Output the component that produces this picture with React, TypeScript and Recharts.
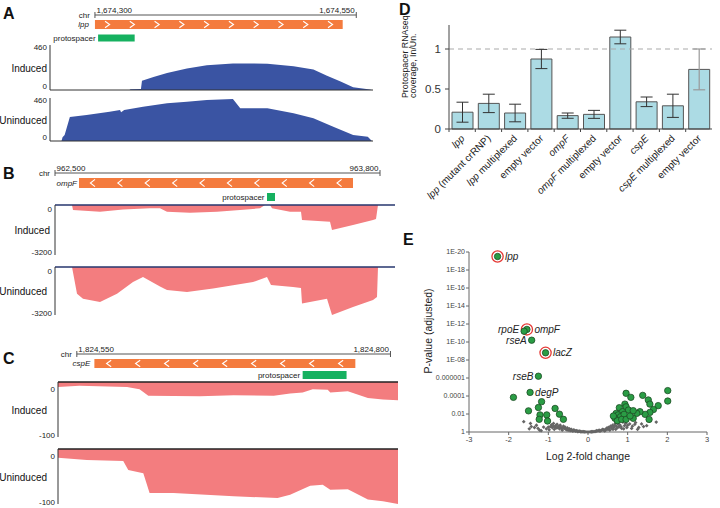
import React from 'react';
import {
  AreaChart,
  Area,
  ComposedChart,
  BarChart,
  Bar,
  ErrorBar,
  ScatterChart,
  Scatter,
  XAxis,
  YAxis,
  ReferenceLine,
  ReferenceArea,
} from 'recharts';

const FONT = '"Liberation Sans", Arial, Helvetica, sans-serif';

// ---------- A: lpp coverage ----------
const lppRuler = [1674300, 1674550];
const lppGene = [1674300, 1674537];
const lppProto = [1674303, 1674338];
const lppRange: [number, number] = [0, 460];
const lppInducedPos = [1674333, 1674334, 1674344, 1674345, 1674356, 1674369, 1674388, 1674407, 1674432, 1674465, 1674490, 1674509, 1674522, 1674535, 1674547, 1674556, 1674563, 1674565];
const lppInduced = [0, 8, 10, 95, 133, 174, 220, 254, 272, 269, 244, 209, 146, 87, 28, 15, 5, 0];
const lppUninducedPos = [1674268, 1674269, 1674271, 1674276, 1674292, 1674314, 1674324, 1674325, 1674328, 1674346, 1674369, 1674388, 1674407, 1674432, 1674439, 1674465, 1674490, 1674509, 1674528, 1674547, 1674561, 1674565];
const lppUninduced = [0, 40, 64, 257, 278, 313, 331, 308, 331, 367, 403, 420, 438, 449, 350, 350, 296, 243, 153, 64, 46, 0];

// ---------- B: ompF coverage ----------
const ompfRuler = [962500, 963800];
const ompfGene = [962596, 963692];
const ompfProto = [963348, 963380];
const ompfRange: [number, number] = [-3200, 0];
const ompfInducedPos = [962568, 962572, 962680, 962772, 962880, 962920, 962948, 963040, 963148, 963240, 963320, 963340, 963360, 963368, 963440, 963484, 963488, 963600, 963608, 963692, 963772, 963784, 963792];
const ompfInduced = [0, -320, -430, -280, -213, -213, -430, -490, -430, -320, -213, 0, 0, -213, -430, -430, -960, -1067, -1600, -1280, -960, -900, 0];
const ompfUninducedPos = [962568, 962588, 962612, 962680, 962748, 962812, 962852, 962920, 962948, 963028, 963132, 963212, 963292, 963348, 963364, 963452, 963484, 963488, 963588, 963608, 963692, 963772, 963788, 963792];
const ompfUninduced = [0, -1780, -2110, -2330, -1780, -1000, -667, -1300, -1530, -1670, -1440, -1220, -1000, -667, -1200, -1330, -1400, -2440, -2110, -3200, -2670, -2200, -2000, 0];

// ---------- C: cspE coverage ----------
const cspeRuler = [1824550, 1824800];
const cspeGene = [1824564, 1824772];
const cspeProto = [1824730, 1824765];
const cspeRange: [number, number] = [-100, 0];
const cspeInducedPos = [1824535, 1824552, 1824590, 1824600, 1824607, 1824648, 1824675, 1824707, 1824720, 1824730, 1824738, 1824750, 1824752, 1824766, 1824782, 1824794, 1824806];
const cspeInduced = [-9, -7, -9, -13, -25, -26, -24, -25, -21, -19, -13, -14, -19, -17, -29, -32, -33];
const cspeUninducedPos = [1824535, 1824558, 1824587, 1824591, 1824603, 1824608, 1824627, 1824675, 1824710, 1824720, 1824736, 1824746, 1824752, 1824766, 1824782, 1824794, 1824806];
const cspeUninduced = [-16, -20, -22, -38, -44, -80, -80, -86, -89, -83, -67, -65, -74, -73, -92, -95, -100];

// ---------- D: protospacer coverage ratio ----------
const dLabels = ['lpp', 'lpp (mutant crRNP)', 'lpp multiplexed', 'empty vector', 'ompF', 'ompF multiplexed', 'empty vector', 'cspE', 'cspE multiplexed', 'empty vector'];
const dRatio = [0.21, 0.32, 0.2, 0.875, 0.167, 0.183, 1.15, 0.34, 0.29, 0.745];
const dErr = [0.125, 0.115, 0.11, 0.12, 0.033, 0.05, 0.085, 0.06, 0.145, 0.255];
const geneNames = ['lpp', 'ompF', 'cspE'];

// ---------- E: volcano ----------
const hitName = ['lpp', 'rpoE', 'ompF', 'rseA', 'lacZ', 'rseB', 'degP'];
const hitFC = [-2.28, -1.61, -1.54, -1.42, -1.07, -1.25, -1.46, -1.88, -1.5, -1.17, -1.25, -1.21, -1.04, -1.23, -1.02, -0.83, -0.72, -0.62,
  2.01, 2.01, 0.96, 1.08, 1.38, 1.52, 1.56, 1.77, 1.65, 1.56, 1.44, 1.31, 1.23, 1.14, 1.54, 0.93, 0.96, 1.02, 0.79, 0.87, 0.71, 0.76, 0.82, 0.91, 0.68, 0.74, 0.85, 0.96, 1.06, 0.64, 1.14];
const hitP = [19.5, 11.2, 11.4, 10.2, 8.8, 6.2, 4.4, 3.85, 2.35, 3.37, 2.72, 1.9, 1.9, 1.41, 1.22, 2.62, 1.98, 1.41,
  4.6, 3.44, 4.3, 3.85, 4.07, 3.56, 3.1, 2.93, 2.5, 2.18, 1.96, 2.26, 2.07, 1.52, 1.4, 3.1, 2.8, 2.44, 2.7, 2.26, 2.07, 1.9, 1.7, 1.96, 1.52, 1.26, 1.4, 1.4, 1.78, 1.78, 2.37];
const targeted = ['lpp', 'ompF', 'lacZ'];
const leftLabels = ['rpoE', 'rseA', 'rseB'];
const bgFC = [-1.62, -1.45, -1.43, -1.3, -1.26, -1.22, -1.12, -1.05, -0.98, -0.92, -0.9, -0.87, -0.85, -0.82, -0.8, -0.78, -0.75, -0.72, -0.7, -0.68, -0.65, -0.62, -0.6, -0.58, -0.55, -0.52, -0.5, -0.47, -0.44, -0.4, -0.36, -0.32, -0.28, -0.24, -0.2, -0.15, -0.1, -0.05, 0,
  0.05, 0.1, 0.15, 0.2, 0.25, 0.3, 0.35, 0.4, 0.42, 0.46, 0.5, 0.52, 0.55, 0.58, 0.6, 0.62, 0.65, 0.68, 0.7, 0.72, 0.75, 0.78, 0.8, 0.85, 0.88, 0.92, 0.98, 1.05, 1.12, 1.2, 1.28, 1.4, 1.55, 1.72,
  -1.48, -1.35, -1.18, -1.0, -0.95, -0.88, -0.83, -0.77, -0.73, -0.67, -0.63, -0.57, -0.53, -0.48, -0.45, -0.42, -0.38, -0.34, -0.3, -0.26, -0.22, -0.18, -0.12, -0.08,
  0.08, 0.12, 0.18, 0.22, 0.28, 0.32, 0.37, 0.44, 0.48, 0.53, 0.57, 0.63, 0.67, 0.73, 0.77, 0.83, 0.9, 0.95, 1.0, 1.1, 1.18, 1.25, 1.35, 1.48];
const bgP = [1.15, 0.95, 0.6, 0.75, 0.4, 0.2, 0.55, 0.35, 0.25, 0.8, 0.5, 0.95, 0.3, 0.7, 0.45, 0.85, 0.6, 0.35, 0.75, 0.5, 0.2, 0.65, 0.4, 0.55, 0.3, 0.45, 0.2, 0.35, 0.25, 0.15, 0.22, 0.1, 0.15, 0.06, 0.08, 0.03, 0.02, 0.01, 0,
  0.01, 0.02, 0.04, 0.08, 0.12, 0.1, 0.2, 0.25, 0.12, 0.35, 0.3, 0.5, 0.2, 0.6, 0.4, 0.75, 0.5, 0.9, 0.3, 0.65, 1.0, 0.55, 0.8, 0.4, 1.1, 0.7, 0.5, 0.9, 0.65, 1.05, 0.5, 0.6, 1.2, 1.1,
  0.35, 0.5, 0.15, 0.55, 0.6, 0.65, 0.55, 0.5, 0.6, 0.4, 0.45, 0.35, 0.25, 0.3, 0.15, 0.3, 0.1, 0.18, 0.12, 0.05, 0.1, 0.03, 0.05, 0.02,
  0.03, 0.05, 0.06, 0.15, 0.2, 0.15, 0.3, 0.2, 0.45, 0.35, 0.65, 0.3, 0.7, 0.45, 0.85, 0.6, 0.35, 0.95, 0.75, 0.4, 0.85, 0.3, 0.9, 0.7];

const pTicks = [0, 2, 4, 6, 8, 10, 12, 14, 16, 18, 20];
const fcTicks = [-3, -2, -1, 0, 1, 2, 3];

const fmtP = (v: number) => {
  if (v === 0) return '1';
  if (v <= 6) return '0.' + '0'.repeat(v - 1) + '1';
  return '1E-' + (v < 10 ? '0' + v : String(v));
};

// ---------- helpers ----------
const PAD = 7;

type TrackProps = {
  pos: number[];
  vals: number[];
  domain: [number, number];
  range: [number, number];
  top: number;
  height: number;
  axisX: number;
  right: number;
  label: string;
  labelRight: number;
  color: string;
  topDy: number;
  bottomDy: number;
  lineColor?: string;
};

function Track(p: TrackProps) {
  const data = p.pos.map((x, i) => ({ x, v: p.vals[i] }));
  const negative = p.range[1] === 0;
  return (
    <div style={{ position: 'absolute', left: 0, top: p.top - PAD }}>
      <AreaChart width={p.right} height={p.height + 2 * PAD} data={data} margin={{ top: PAD, right: 0, bottom: PAD, left: 0 }}>
        <XAxis
          dataKey="x"
          type="number"
          domain={p.domain}
          allowDataOverflow
          hide={negative}
          height={1}
          tick={false}
          tickLine={false}
          axisLine={{ stroke: '#333' }}
        />
        <YAxis
          type="number"
          domain={p.range}
          ticks={p.range}
          interval={0}
          width={p.axisX}
          tickLine={false}
          tickSize={0}
          tickMargin={3}
          axisLine={{ stroke: '#333' }}
          tick={(tp: any) => {
            const v = tp.payload.value;
            const atTop = v === p.range[1];
            return (
              <text x={tp.x} y={tp.y} dy={atTop ? p.topDy : p.bottomDy} textAnchor="end" fontSize={8} fill="#222" fontFamily={FONT}>
                {v}
              </text>
            );
          }}
          label={{
            content: () => (
              <text x={p.labelRight} y={PAD + p.height / 2 + 4} textAnchor="end" fontSize={10} fill="#111" fontFamily={FONT}>
                {p.label}
              </text>
            ),
          }}
        />
        {negative && <ReferenceLine y={0} stroke={p.lineColor} strokeWidth={1.5} />}
        <Area type="linear" dataKey="v" stroke="none" fill={p.color} fillOpacity={1} baseValue={0} isAnimationActive={false} />
      </AreaChart>
    </div>
  );
}

type HeaderProps = {
  top: number;
  height: number;
  plotLeft: number;
  right: number;
  domain: [number, number];
  ruler: number[];
  rulerY: number;
  gene: number[];
  geneY: [number, number];
  name: string;
  nameGap: number;
  dir: 1 | -1;
  chevrons: number;
  proto: number[];
  protoY: [number, number];
};

const geneShape = (dir: number, n: number) => (sp: any) => {
  const { x, y, width, height } = sp;
  const cy = y + height / 2;
  const h = height * 0.36;
  const marks = [];
  for (let i = 0; i < n; i++) {
    const cx = x + ((i + 0.5) * width) / n;
    const pts = dir > 0
      ? `${cx - 2.3},${cy - h} ${cx + 2.3},${cy} ${cx - 2.3},${cy + h}`
      : `${cx + 2.3},${cy - h} ${cx - 2.3},${cy} ${cx + 2.3},${cy + h}`;
    marks.push(<polyline key={i} points={pts} fill="none" stroke="#fff" strokeWidth={1.1} />);
  }
  return (
    <g>
      <rect x={x} y={y} width={width} height={height} fill="#f47b3e" />
      {marks}
    </g>
  );
};

function Header(p: HeaderProps) {
  const [r0, r1] = p.ruler;
  const lbl = { fontSize: 8, fill: '#222', fontFamily: FONT };
  return (
    <div style={{ position: 'absolute', left: 0, top: p.top }}>
      <ComposedChart width={p.right} height={p.height} data={[]} margin={{ top: 0, right: 0, bottom: 0, left: p.plotLeft }}>
        <XAxis type="number" dataKey="x" domain={p.domain} allowDataOverflow hide />
        <YAxis type="number" domain={[0, p.height]} allowDataOverflow reversed hide />
        <ReferenceLine
          segment={[{ x: r0, y: p.rulerY }, { x: r1, y: p.rulerY }]}
          stroke="#555"
          ifOverflow="visible"
          label={{
            content: (lp: any) => (
              <text x={lp.viewBox.x - 5} y={lp.viewBox.y + 3} textAnchor="end" {...lbl}>chr</text>
            ),
          }}
        />
        <ReferenceLine
          segment={[{ x: r0, y: p.rulerY - 3 }, { x: r0, y: p.rulerY + 3 }]}
          stroke="#555"
          ifOverflow="visible"
          label={{
            content: (lp: any) => (
              <text x={lp.viewBox.x + 1.5} y={lp.viewBox.y + 0.5} textAnchor="start" {...lbl}>{r0.toLocaleString('en-US')}</text>
            ),
          }}
        />
        <ReferenceLine
          segment={[{ x: r1, y: p.rulerY - 3 }, { x: r1, y: p.rulerY + 3 }]}
          stroke="#555"
          ifOverflow="visible"
          label={{
            content: (lp: any) => (
              <text x={lp.viewBox.x - 1.5} y={lp.viewBox.y + 0.5} textAnchor="end" {...lbl}>{r1.toLocaleString('en-US')}</text>
            ),
          }}
        />
        <ReferenceArea
          x1={p.gene[0]}
          x2={p.gene[1]}
          y1={p.geneY[0]}
          y2={p.geneY[1]}
          ifOverflow="visible"
          shape={geneShape(p.dir, p.chevrons)}
          label={{ value: p.name, position: 'left', offset: p.nameGap, fontSize: 8, fill: '#222', fontStyle: 'italic', fontFamily: FONT }}
        />
        <ReferenceArea
          x1={p.proto[0]}
          x2={p.proto[1]}
          y1={p.protoY[0]}
          y2={p.protoY[1]}
          ifOverflow="visible"
          fill="#16b160"
          fillOpacity={1}
          stroke="none"
          label={{ value: 'protospacer', position: 'left', offset: 2.5, fontSize: 8, fill: '#222', fontFamily: FONT }}
        />
      </ComposedChart>
    </div>
  );
}

const PanelLetter = ({ ch, left, top }: { ch: string; left: number; top: number }) => (
  <div style={{ position: 'absolute', left, top, fontFamily: FONT, fontWeight: 'bold', fontSize: 16, lineHeight: '16px', color: '#111' }}>{ch}</div>
);

// ---------- D ----------
const D_BAND = 263 / dLabels.length;

const DTick = (tp: any) => {
  const { x, y, payload } = tp;
  const label = dLabels[payload.value];
  const words = label.split(' ');
  const italic = geneNames.includes(words[0]);
  const ax = x + 3;
  const ay = y + 10;
  return (
    <g>
      <line x1={x - D_BAND / 2} x2={x - D_BAND / 2} y1={y} y2={y + 3} stroke="#444" />
      <text x={ax} y={ay} transform={`rotate(-45 ${ax} ${ay})`} textAnchor="end" fontSize={10} fill="#222" fontFamily={FONT}>
        {italic ? <tspan fontStyle="italic">{words[0]}</tspan> : <tspan>{words[0]}</tspan>}
        {words.length > 1 && <tspan>{' ' + words.slice(1).join(' ')}</tspan>}
      </text>
    </g>
  );
};

function PanelD() {
  const last = dRatio.length - 1;
  const data = dRatio.map((v, i) => ({
    i,
    ratio: v,
    errDark: i === last ? null : dErr[i],
    errLight: i === last ? dErr[i] : null,
  }));
  return (
    <div style={{ position: 'absolute', left: 400, top: 0 }}>
      <BarChart width={320} height={220} data={data} margin={{ top: 25, right: 8, bottom: 0, left: 9 }} barSize={21}>
        <XAxis dataKey="i" height={91} interval={0} tickSize={0} tickMargin={0} tickLine={false} axisLine={{ stroke: '#444' }} tick={<DTick />} />
        <YAxis
          type="number"
          domain={[0, 1.3]}
          ticks={[0, 0.5, 1]}
          width={40}
          tickSize={4}
          tickMargin={4}
          axisLine={{ stroke: '#444' }}
          tickLine={{ stroke: '#444' }}
          tick={{ fontSize: 11.5, fill: '#333', fontFamily: FONT }}
          label={{
            content: () => (
              <g fill="#222" fontFamily={FONT} fontSize={8.8}>
                <g transform="translate(7.5 98) rotate(-90)">
                  <text x={0} y={0} textAnchor="start">Protospacer RNAseq</text>
                </g>
                <g transform="translate(16 98) rotate(-90)">
                  <text x={0} y={0} textAnchor="start">coverage, In/Un.</text>
                </g>
              </g>
            ),
          }}
        />
        <ReferenceLine y={1} stroke="#aaa" strokeDasharray="5 4" strokeWidth={1.2} />
        <Bar dataKey="ratio" fill="#acdbe4" stroke="#555" strokeWidth={1} isAnimationActive={false}>
          <ErrorBar dataKey="errDark" width={6} stroke="#333" strokeWidth={1} direction="y" />
          <ErrorBar dataKey="errLight" width={6} stroke="#999" strokeWidth={1.2} direction="y" />
        </Bar>
      </BarChart>
    </div>
  );
}

// ---------- E ----------
const HitShape = (sp: any) => {
  const { cx, cy, payload } = sp;
  const name: string = payload.name;
  const ring = targeted.includes(name);
  const left = leftLabels.includes(name);
  return (
    <g>
      {ring && <circle cx={cx} cy={cy} r={5.6} fill="#fff" stroke="#e53935" strokeWidth={1.3} />}
      <circle cx={cx} cy={cy} r={3.2} fill="#2a9d45" stroke="#1d4d24" strokeWidth={0.8} />
      {name && (
        <text
          x={left ? cx - 5 : cx + (ring ? 7.5 : 5)}
          y={name === 'rpoE' ? cy + 2 : cy + 3.5}
          textAnchor={left ? 'end' : 'start'}
          fontSize={10}
          fontStyle="italic"
          fill="#222"
          fontFamily={FONT}
        >
          {name}
        </text>
      )}
    </g>
  );
};

const BgShape = (sp: any) => {
  const { cx, cy } = sp;
  const s = 1.9;
  return <path d={`M${cx},${cy - s}L${cx + s},${cy}L${cx},${cy + s}L${cx - s},${cy}Z`} fill="#666" />;
};

function PanelE() {
  const hits = hitFC.map((x, i) => ({ x, y: hitP[i], name: hitName[i] ?? '' }));
  const bg = bgFC.map((x, i) => ({ x, y: bgP[i] }));
  const hitsDrawn = [...hits.slice(hitName.length), ...hits.slice(0, hitName.length).reverse()];
  return (
    <div style={{ position: 'absolute', left: 400, top: 240 }}>
      <ScatterChart width={320} height={240} margin={{ top: 12, right: 13, bottom: 18, left: 0 }}>
        <XAxis
          type="number"
          dataKey="x"
          domain={[-3, 3]}
          ticks={fcTicks}
          interval={0}
          height={30}
          tickSize={3}
          tickMargin={2}
          axisLine={{ stroke: '#666' }}
          tickLine={{ stroke: '#666' }}
          tick={{ fontSize: 7.5, fill: '#444', fontFamily: FONT }}
          label={{ value: 'Log 2-fold change', position: 'insideBottom', offset: 2, fontSize: 10.5, fill: '#222', fontFamily: FONT }}
        />
        <YAxis
          type="number"
          dataKey="y"
          domain={[0, 20]}
          ticks={pTicks}
          interval={0}
          width={69}
          tickSize={3}
          tickMargin={1}
          tickFormatter={fmtP}
          axisLine={{ stroke: '#666' }}
          tickLine={{ stroke: '#666' }}
          tick={{ fontSize: 7, fill: '#444', fontFamily: FONT }}
          label={{
            content: () => (
              <text x={32} y={91} transform="rotate(-90 32 91)" textAnchor="middle" fontSize={10.5} fill="#222" fontFamily={FONT}>
                P-value (adjusted)
              </text>
            ),
          }}
        />
        <Scatter data={bg} shape={BgShape} isAnimationActive={false} />
        <Scatter data={hitsDrawn} shape={HitShape} isAnimationActive={false} />
      </ScatterChart>
    </div>
  );
}

export default function App() {
  return (
    <div style={{ position: 'absolute', left: 0, top: 0, width: 720, height: 508, background: '#fff', overflow: 'hidden', fontFamily: FONT }}>
      <PanelLetter ch="A" left={3} top={6} />
      <PanelLetter ch="B" left={3} top={166} />
      <PanelLetter ch="C" left={3} top={351} />
      <PanelLetter ch="D" left={399} top={2} />
      <PanelLetter ch="E" left={403} top={232} />

      <Header top={0} height={45} plotLeft={50} right={373} domain={[1674257, 1674566]} ruler={lppRuler} rulerY={15}
        gene={lppGene} geneY={[20, 29]} name="lpp" nameGap={6} dir={1} chevrons={10} proto={lppProto} protoY={[34.5, 41.5]} />
      <Track pos={lppInducedPos} vals={lppInduced} domain={[1674257, 1674566]} range={lppRange} top={45} height={46} axisX={50} right={373}
        label="Induced" labelRight={47} color="#3a54a3" topDy={5} bottomDy={-1} />
      <Track pos={lppUninducedPos} vals={lppUninduced} domain={[1674257, 1674566]} range={lppRange} top={98} height={44} axisX={50} right={373}
        label="Uninduced" labelRight={47} color="#3a54a3" topDy={5} bottomDy={-1} />

      <Header top={160} height={45} plotLeft={55} right={395} domain={[962500, 963860]} ruler={ompfRuler} rulerY={13}
        gene={ompfGene} geneY={[18, 28]} name="ompF" nameGap={2} dir={-1} chevrons={10} proto={ompfProto} protoY={[33, 41]} />
      <Track pos={ompfInducedPos} vals={ompfInduced} domain={[962500, 963860]} range={ompfRange} top={205} height={50} axisX={55} right={395}
        label="Induced" labelRight={50} color="#f37d7f" topDy={7} bottomDy={0} lineColor="#26366e" />
      <Track pos={ompfUninducedPos} vals={ompfUninduced} domain={[962500, 963860]} range={ompfRange} top={267} height={48} axisX={55} right={395}
        label="Uninduced" labelRight={47} color="#f37d7f" topDy={7} bottomDy={1} lineColor="#26366e" />

      <Header top={340} height={42} plotLeft={58} right={398} domain={[1824535, 1824806]} ruler={cspeRuler} rulerY={14}
        gene={cspeGene} geneY={[19, 28]} name="cspE" nameGap={4} dir={-1} chevrons={9} proto={cspeProto} protoY={[31, 39]} />
      <Track pos={cspeInducedPos} vals={cspeInduced} domain={[1824535, 1824806]} range={cspeRange} top={382} height={55} axisX={58} right={398}
        label="Induced" labelRight={47} color="#f37d7f" topDy={9.5} bottomDy={1} lineColor="#222" />
      <Track pos={cspeUninducedPos} vals={cspeUninduced} domain={[1824535, 1824806]} range={cspeRange} top={449} height={55} axisX={58} right={398}
        label="Uninduced" labelRight={47} color="#f37d7f" topDy={9.5} bottomDy={1} lineColor="#222" />

      <PanelD />
      <PanelE />
    </div>
  );
}
